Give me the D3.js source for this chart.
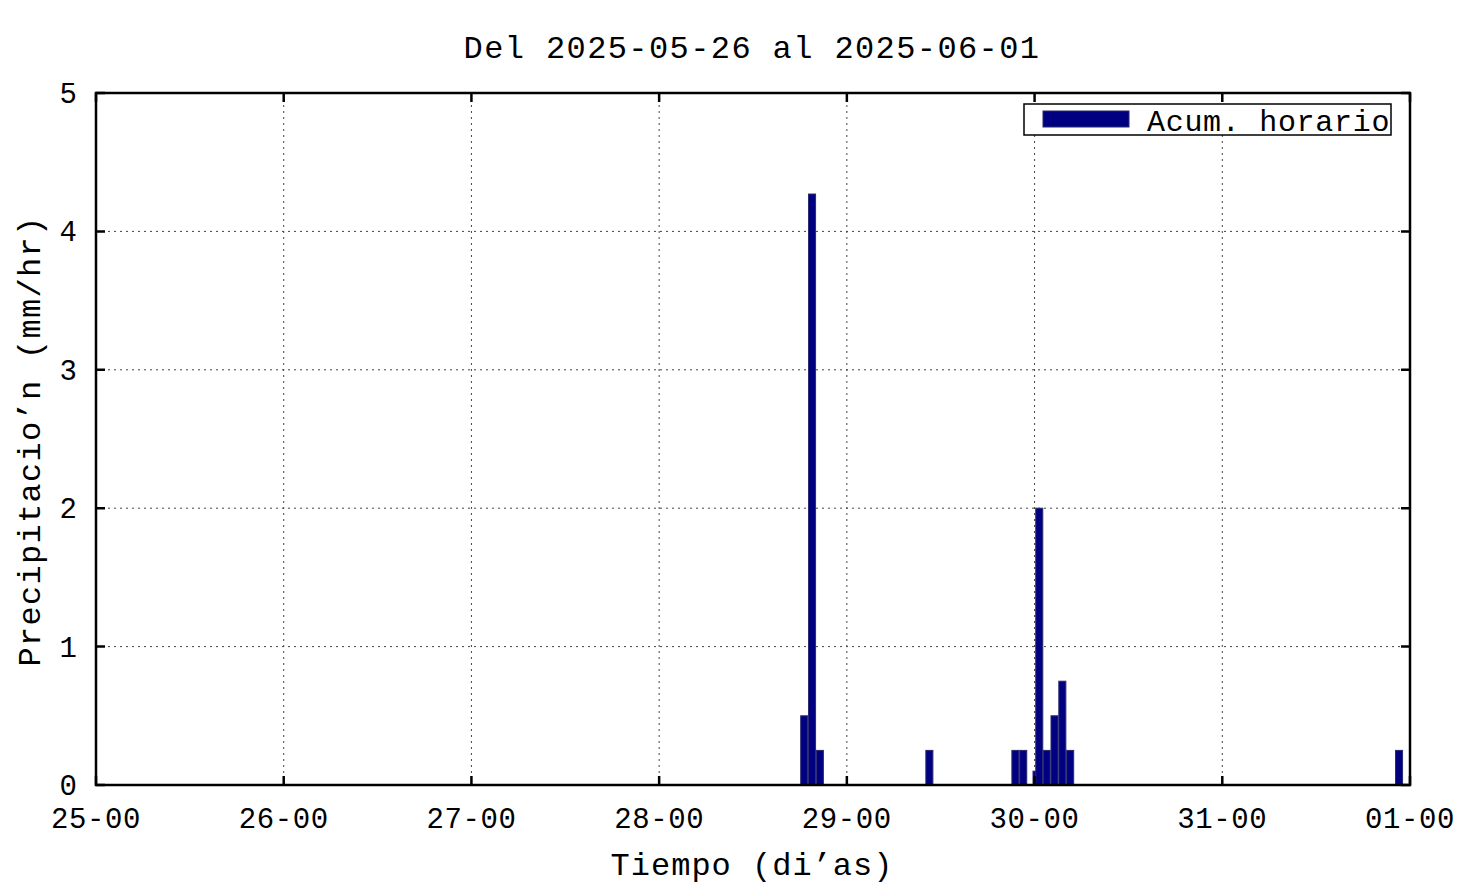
<!DOCTYPE html>
<html lang="es">
<head>
    <meta charset="utf-8" />
    <title>Precipitacion</title>
    <script src="https://d3js.org/d3.v7.min.js"></script>
    <style>
        body { margin: 0; background: #fff; }
        text { font-family: "Liberation Mono", "DejaVu Sans Mono", monospace; fill: #000; }
    </style>
</head>
<body>
<script>

    // datos
    var times = ["2025-05-28 18:33", "2025-05-28 19:33", "2025-05-28 20:33",
        "2025-05-29 10:33", "2025-05-29 21:33", "2025-05-29 22:33",
        "2025-05-30 00:15", "2025-05-30 00:36", "2025-05-30 01:33",
        "2025-05-30 02:33", "2025-05-30 03:33", "2025-05-30 04:33",
        "2025-05-31 22:36"];
    var values = [0.5, 4.27, 0.25, 0.25, 0.25, 0.25, 0.1, 2.0, 0.25, 0.5, 0.75, 0.25, 0.25];
    var yTicks = [0, 1, 2, 3, 4, 5];
    var xStart = "2025-05-25 00:00";
    var xEnd = "2025-06-01 00:00";
    var title = "Del 2025-05-26 al 2025-06-01";
    var xLabel = "Tiempo (di\u2019as)";
    var yLabel = "Precipitacio\u2019n (mm/hr)";
    var legendLabel = "Acum. horario";

    var w = 1476, h = 885;
    var pLeft = 96, pRight = 1410, pTop = 93, pBottom = 785;

    var parse = d3.utcParse("%Y-%m-%d %H:%M");
    var data = times.map(function (t, i) { return { t: parse(t), v: values[i] }; });

    var svg = d3.select("body").append("svg")
        .attr("width", w)
        .attr("height", h);

    var xScale = d3.scaleUtc()
        .domain([parse(xStart), parse(xEnd)])
        .range([pLeft, pRight]);

    var yScale = d3.scaleLinear()
        .domain([0, 5])
        .range([pBottom, pTop]);

    var dayTicks = d3.utcDay.range(parse(xStart), d3.utcDay.offset(parse(xEnd), 1));
    var fmt = d3.utcFormat("%d-%H");

    // rejilla punteada
    svg.append("g")
        .selectAll("line")
        .data(dayTicks.slice(1, -1))
        .enter()
        .append("line")
        .attr("x1", function (d) { return xScale(d); })
        .attr("x2", function (d) { return xScale(d); })
        .attr("y1", pTop)
        .attr("y2", pBottom)
        .attr("stroke", "#444")
        .attr("stroke-width", 1)
        .attr("stroke-dasharray", "2,4");

    svg.append("g")
        .selectAll("line")
        .data(yTicks.slice(1, -1))
        .enter()
        .append("line")
        .attr("x1", pLeft)
        .attr("x2", pRight)
        .attr("y1", function (d) { return yScale(d); })
        .attr("y2", function (d) { return yScale(d); })
        .attr("stroke", "#444")
        .attr("stroke-width", 1)
        .attr("stroke-dasharray", "2,4");

    // barras
    var halfBar = 0.45 * 3600 * 1000;
    svg.append("g")
        .selectAll("rect")
        .data(data)
        .enter()
        .append("rect")
        .attr("x", function (d) { return xScale(new Date(d.t.getTime() - halfBar)); })
        .attr("width", function (d) {
            return xScale(new Date(d.t.getTime() + halfBar)) - xScale(new Date(d.t.getTime() - halfBar));
        })
        .attr("y", function (d) { return yScale(d.v); })
        .attr("height", function (d) { return pBottom - yScale(d.v); })
        .attr("fill", "#000080")
        .attr("stroke", "#2a2a70")
        .attr("stroke-width", 1);

    // marco y marcas
    var tickLen = 9;
    var axes = svg.append("g").attr("stroke", "#000").attr("stroke-width", 2.5);

    axes.selectAll(".xt")
        .data(dayTicks)
        .enter()
        .append("path")
        .attr("d", function (d) {
            var x = xScale(d);
            return "M" + x + "," + pBottom + "v" + (-tickLen) + "M" + x + "," + pTop + "v" + tickLen;
        });

    axes.selectAll(".yt")
        .data(yTicks)
        .enter()
        .append("path")
        .attr("d", function (d) {
            var y = yScale(d);
            return "M" + pLeft + "," + y + "h" + tickLen + "M" + pRight + "," + y + "h" + (-tickLen);
        });

    axes.append("rect")
        .attr("x", pLeft)
        .attr("y", pTop)
        .attr("width", pRight - pLeft)
        .attr("height", pBottom - pTop)
        .attr("fill", "none");

    // etiquetas de ejes
    svg.append("g")
        .selectAll("text")
        .data(dayTicks)
        .enter()
        .append("text")
        .attr("x", function (d) { return xScale(d); })
        .attr("y", 828)
        .attr("text-anchor", "middle")
        .attr("font-size", "29px")
        .attr("letter-spacing", "0.6px")
        .text(function (d) { return fmt(d); });

    svg.append("g")
        .selectAll("text")
        .data(yTicks)
        .enter()
        .append("text")
        .attr("x", 77)
        .attr("y", function (d) { return yScale(d) + 10; })
        .attr("text-anchor", "end")
        .attr("font-size", "29px")
        .text(function (d) { return d; });

    svg.append("text")
        .attr("x", 752)
        .attr("y", 58)
        .attr("text-anchor", "middle")
        .attr("font-size", "32px")
        .attr("letter-spacing", "1.4px")
        .text(title);

    svg.append("text")
        .attr("x", 752)
        .attr("y", 875)
        .attr("text-anchor", "middle")
        .attr("font-size", "32px")
        .attr("letter-spacing", "1px")
        .text(xLabel);

    svg.append("text")
        .attr("transform", "translate(40,441) rotate(-90)")
        .attr("text-anchor", "middle")
        .attr("font-size", "32px")
        .attr("letter-spacing", "1.3px")
        .text(yLabel);

    // leyenda
    var lg = svg.append("g");
    lg.append("rect")
        .attr("x", 1024)
        .attr("y", 104)
        .attr("width", 367)
        .attr("height", 31)
        .attr("fill", "#fff")
        .attr("stroke", "#000")
        .attr("stroke-width", 1.5);
    lg.append("rect")
        .attr("x", 1043)
        .attr("y", 111)
        .attr("width", 86)
        .attr("height", 16)
        .attr("fill", "#000080")
        .attr("stroke", "#2a2a70");
    lg.append("text")
        .attr("x", 1147)
        .attr("y", 131)
        .attr("font-size", "30px")
        .attr("letter-spacing", "0.7px")
        .text(legendLabel);

</script>
</body>
</html>
